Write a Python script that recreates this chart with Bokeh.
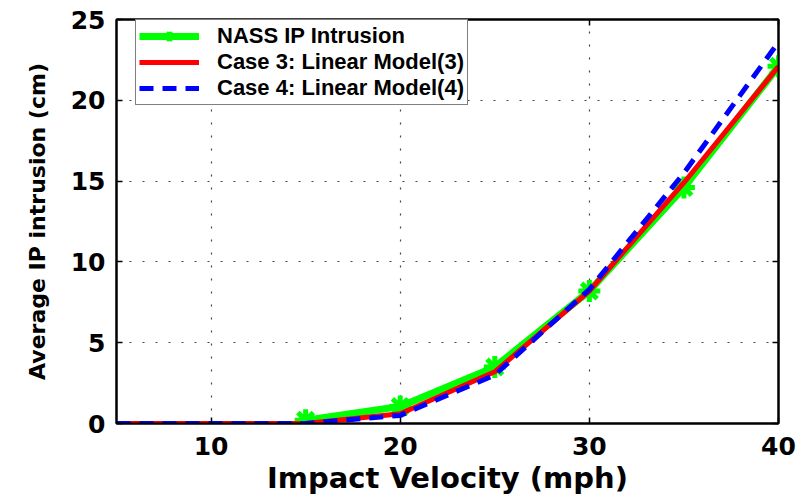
from bokeh.plotting import figure
from bokeh.models import LinearAxis, FixedTicker, Legend, LegendItem
from bokeh.embed import file_html
from bokeh.resources import INLINE

# Impact velocity (mph)
velocity = [5, 10, 15, 20, 25, 30, 35, 40]
nass_velocity = [15, 20, 25, 30, 35, 40]

# Average instrument-panel intrusion (cm)
nass_intrusion = [0.2, 1.05, 3.5, 8.2, 14.6, 22.1]
case3_intrusion = [0.0, 0.0, 0.0, 0.6, 3.2, 8.2, 14.9, 22.1]
case4_intrusion = [0.0, 0.0, 0.0, 0.5, 3.0, 8.3, 15.5, 23.6]

x_ticks = [10, 20, 30, 40]
y_ticks = [0, 5, 10, 15, 20, 25]

AXIS_FONT = "DejaVu Sans"
LEGEND_FONT = "Liberation Sans"

p = figure(width=812, height=497, x_range=(5, 40), y_range=(0, 25),
           output_backend="svg", toolbar_location=None,
           min_border_left=116, min_border_right=34,
           min_border_top=19, min_border_bottom=74)
p.background_fill_color = "white"
p.border_fill_color = "white"
p.outline_line_color = "black"
p.outline_line_width = 2

# Main axes
p.xaxis.ticker = FixedTicker(ticks=x_ticks)
p.yaxis.ticker = FixedTicker(ticks=y_ticks)
for ax in (p.xaxis[0], p.yaxis[0]):
    ax.major_tick_in = 6
    ax.major_tick_out = 0
    ax.minor_tick_line_color = None
    ax.axis_line_width = 2
    ax.major_tick_line_width = 1.5
    ax.major_label_text_font = AXIS_FONT
    ax.major_label_text_font_style = "bold"
    ax.major_label_text_font_size = "25px"
    ax.major_label_text_color = "black"
    ax.axis_label_text_font = AXIS_FONT
    ax.axis_label_text_font_style = "bold"
    ax.axis_label_text_color = "black"

p.xaxis.axis_label = "Impact Velocity (mph)"
p.yaxis.axis_label = "Average IP intrusion (cm)"
p.xaxis.axis_label_text_font_size = "29px"
p.yaxis.axis_label_text_font_size = "22px"
p.xaxis.major_label_standoff = 13
p.xaxis.axis_label_standoff = 3
p.yaxis.major_label_standoff = 11
p.yaxis.axis_label_standoff = 18

# Tick marks on the top and right edges of the box
for side, ticks in (("above", x_ticks), ("right", y_ticks)):
    ax = LinearAxis(ticker=FixedTicker(ticks=ticks))
    ax.major_tick_in = 6
    ax.major_tick_out = 0
    ax.major_tick_line_width = 1.5
    ax.minor_tick_line_color = None
    ax.axis_line_width = 2
    ax.major_label_text_color = None
    ax.major_label_text_font_size = "1px"
    ax.major_label_standoff = 0
    p.add_layout(ax, side)

# Dotted grid
for g in (p.xgrid[0], p.ygrid[0]):
    g.grid_line_color = "#444444"
    g.grid_line_dash = "2 11"
    g.grid_line_width = 1.2

p.xgrid.ticker = FixedTicker(ticks=[10, 20, 30])
p.ygrid.ticker = FixedTicker(ticks=[5, 10, 15, 20])

# Series
g_line = p.line(nass_velocity, nass_intrusion, line_color="#00ff00", line_width=7)
g_mark = p.scatter(nass_velocity, nass_intrusion, marker="asterisk", size=22,
                   line_color="#00ff00", line_width=5)
r_line = p.line(velocity, case3_intrusion, line_color="#ff0000", line_width=5,
                line_cap="butt")
b_line = p.line(velocity, case4_intrusion, line_color="#0000ff", line_width=5,
                line_dash="14 9", line_cap="butt")

legend = Legend(items=[
    LegendItem(label="NASS IP Intrusion", renderers=[g_line, g_mark]),
    LegendItem(label="Case 3: Linear Model(3)", renderers=[r_line]),
    LegendItem(label="Case 4: Linear Model(4)", renderers=[b_line]),
], location=(19, 318))
legend.label_text_font = LEGEND_FONT
legend.label_text_font_style = "bold"
legend.label_text_font_size = "22px"
legend.label_text_color = "black"
legend.label_height = 22
legend.glyph_height = 24
legend.glyph_width = 60
legend.label_standoff = 18
legend.spacing = 0
legend.padding = 3
legend.margin = 0
legend.border_line_color = "black"
legend.border_line_width = 1.5
legend.background_fill_color = "white"
legend.background_fill_alpha = 1
p.add_layout(legend)

open("out.html", "w").write(file_html(p, INLINE))
